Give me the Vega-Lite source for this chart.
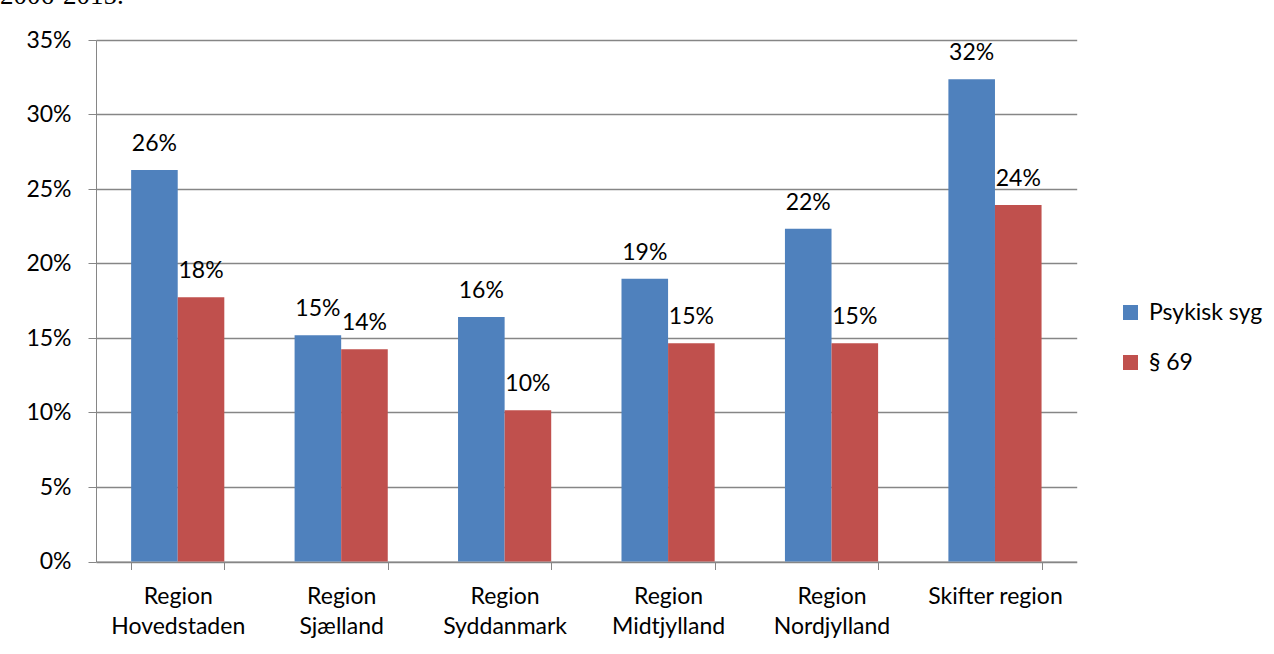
{
  "$schema": "https://vega.github.io/schema/vega-lite/v6.json",
  "width": 980.7,
  "height": 521.5,
  "autosize": {"type": "none"},
  "padding": {"left": 96, "top": 40, "right": 197.3, "bottom": 92.5},
  "background": "white",
  "title": {
    "text": "2006-2015.",
    "anchor": "start",
    "frame": "group",
    "font": "Liberation Serif",
    "fontSize": 27,
    "fontWeight": "normal",
    "color": "black",
    "baseline": "alphabetic",
    "dx": -96,
    "dy": 12,
    "offset": 10
  },
  "data": {
    "values": [
      {"region": "Region|Hovedstaden", "serie": "Psykisk syg", "value": 0.2627},
      {"region": "Region|Hovedstaden", "serie": "§ 69", "value": 0.1773},
      {"region": "Region|Sjælland", "serie": "Psykisk syg", "value": 0.1518},
      {"region": "Region|Sjælland", "serie": "§ 69", "value": 0.1424},
      {"region": "Region|Syddanmark", "serie": "Psykisk syg", "value": 0.1641},
      {"region": "Region|Syddanmark", "serie": "§ 69", "value": 0.1015},
      {"region": "Region|Midtjylland", "serie": "Psykisk syg", "value": 0.1898},
      {"region": "Region|Midtjylland", "serie": "§ 69", "value": 0.1464},
      {"region": "Region|Nordjylland", "serie": "Psykisk syg", "value": 0.2234},
      {"region": "Region|Nordjylland", "serie": "§ 69", "value": 0.1464},
      {"region": "Skifter region", "serie": "Psykisk syg", "value": 0.3236},
      {"region": "Skifter region", "serie": "§ 69", "value": 0.2393}
    ]
  },
  "encoding": {
    "x": {
      "field": "region",
      "type": "nominal",
      "sort": null,
      "scale": {"paddingInner": 0.43, "paddingOuter": 0.215},
      "axis": {
        "title": null,
        "labelAngle": 0,
        "labelExpr": "split(datum.label, '|')",
        "labelFont": "Lato",
        "labelFontSize": 23,
        "labelColor": "black",
        "labelLineHeight": 30,
        "labelPadding": 16,
        "tickBand": "extent",
        "tickSize": 8,
        "tickColor": "#868686",
        "domainColor": "#868686",
        "grid": false
      }
    },
    "xOffset": {"field": "serie", "type": "nominal", "sort": ["Psykisk syg", "§ 69"]},
    "y": {
      "field": "value",
      "type": "quantitative",
      "scale": {"domain": [0, 0.35], "nice": false},
      "axis": {
        "title": null,
        "values": [0, 0.05, 0.1, 0.15, 0.2, 0.25, 0.3, 0.35],
        "format": ".0%",
        "labelFont": "Lato",
        "labelFontSize": 23,
        "labelColor": "black",
        "labelPadding": 17,
        "tickSize": 8,
        "tickColor": "#868686",
        "domainColor": "#868686",
        "grid": true,
        "gridColor": "#868686",
        "gridWidth": 1.3
      }
    }
  },
  "layer": [
    {
      "mark": {"type": "bar"},
      "encoding": {
        "color": {
          "field": "serie",
          "type": "nominal",
          "sort": ["Psykisk syg", "§ 69"],
          "scale": {"domain": ["Psykisk syg", "§ 69"], "range": ["#4F81BD", "#C0504D"]},
          "legend": {
            "title": null,
            "orient": "none",
            "legendX": 1023,
            "legendY": 261,
            "padding": 0,
            "symbolType": "square",
            "symbolSize": 225,
            "symbolStrokeWidth": 0,
            "labelFont": "Lato",
            "labelFontSize": 23,
            "labelColor": "black",
            "labelOffset": 7,
            "rowPadding": 26
          }
        }
      }
    },
    {
      "mark": {
        "type": "text",
        "baseline": "alphabetic",
        "align": "center",
        "dy": -19,
        "font": "Lato",
        "fontSize": 23,
        "color": "black"
      },
      "encoding": {
        "text": {"field": "value", "type": "quantitative", "format": ".0%"}
      }
    }
  ],
  "config": {"view": {"stroke": null}}
}
